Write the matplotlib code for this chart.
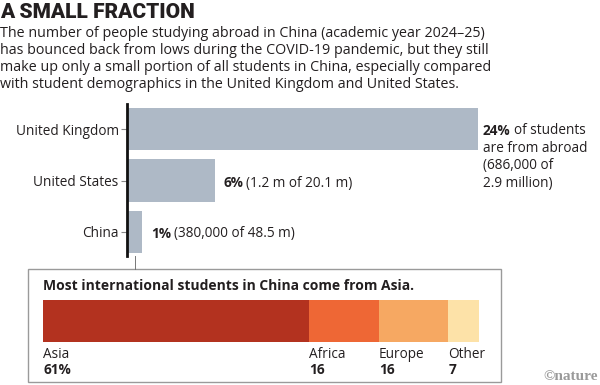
import matplotlib
matplotlib.use("Agg")
import matplotlib.pyplot as plt
from matplotlib.patches import Rectangle
from matplotlib.lines import Line2D

# data
countries = ["United Kingdom", "United States", "China"]
shares = [24, 6, 1]
notes = [
    ["of students", "are from abroad", "(686,000 of", "2.9 million)"],
    ["(1.2 m of 20.1 m)"],
    ["(380,000 of 48.5 m)"],
]
regions = ["Asia", "Africa", "Europe", "Other"]
region_shares = [61, 16, 16, 7]
region_labels = ["61%", "16", "16", "7"]
region_colors = ["#b3321f", "#ee6735", "#f6a862", "#fde2a8"]

W, H = 600, 385
BODY = ["Open Sans", "DejaVu Sans"]
TXT = "#231f20"
FS = 9.8

fig = plt.figure(figsize=(W / 100, H / 100), dpi=100)


def fx(px):
    return px / W


def fy(py):
    return 1 - py / H


def mixed(x, y, bold, rest, size, **kw):
    # bold piece followed by normal piece on one line (figure pixels)
    t = fig.text(fx(x), fy(y), bold, fontsize=size, weight="bold",
                 family=BODY, color=TXT, va="center", ha="left", **kw)
    r = fig.canvas.get_renderer()
    bb = t.get_window_extent(renderer=r)
    fig.text(bb.x1 / W + fx(3), fy(y), rest, fontsize=size, family=BODY,
             color=TXT, va="center", ha="left", **kw)


# headline and intro
fig.text(fx(0), fy(17.5), "A SMALL FRACTION", fontsize=15, weight="heavy",
         family=["Roboto", "DejaVu Sans"], color=TXT,
         va="baseline", ha="left")
intro = [
    "The number of people studying abroad in China (academic year 2024\u201325)",
    "has bounced back from lows during the COVID-19 pandemic, but they still",
    "make up only a small portion of all students in China, especially compared",
    "with student demographics in the United Kingdom and United States.",
]
for i, line in enumerate(intro):
    fig.text(fx(0), fy(37 + i * 17), line, fontsize=10.3, family=BODY,
             color=TXT, va="baseline", ha="left")

# country bars
ax = fig.add_axes([fx(127), fy(256), (478 - 127) / W, (256 - 104) / H])
ypos = list(range(len(countries)))
ax.barh(ypos, shares, height=0.83, color="#aeb9c6")
ax.set_xlim(0, 24)
ax.set_ylim(2.47, -0.49)
ax.set_yticks(ypos)
ax.set_yticklabels(countries, family=BODY, fontsize=FS, color=TXT)
ax.set_xticks([])
for s in ["top", "right", "bottom"]:
    ax.spines[s].set_visible(False)
ax.spines["left"].set_linewidth(2)
ax.spines["left"].set_color("#111111")
ax.tick_params(axis="y", length=4, width=0.8, color="#888888", pad=2)
ax.patch.set_alpha(0)

# annotations next to bars
mixed(483, 131, "24%", notes[0][0], FS)
for i, line in enumerate(notes[0][1:]):
    fig.text(fx(483), fy(131 + (i + 1) * 17.5), line, fontsize=FS,
             family=BODY, color=TXT, va="center", ha="left")
mixed(223, 183, "6%", notes[1][0], FS)
mixed(151, 234, "1%", notes[2][0], FS)

# connector and inset box
fig.add_artist(Line2D([fx(135), fx(135)], [fy(256), fy(269)],
                      color="#777777", lw=0.7))
fig.add_artist(Rectangle((fx(28), fy(382)), (501 - 28) / W, (382 - 269) / H,
                         transform=fig.transFigure, fill=False,
                         edgecolor="#9a9a9a", lw=1))
fig.text(fx(43), fy(286), "Most international students in China come from Asia.",
         fontsize=10, weight="bold", family=BODY, color=TXT,
         va="center", ha="left")

ax2 = fig.add_axes([fx(43), fy(342), (479 - 43) / W, (342 - 300) / H])
ax2.set_xlim(0, 100)
ax2.set_ylim(-0.5, 0.5)
ax2.axis("off")
left = 0
for name, val, lab, col in zip(regions, region_shares, region_labels, region_colors):
    ax2.barh(0, val, left=left, height=1, color=col)
    pos = ax2.transData.transform((left, 0))
    fig.text(pos[0] / W, fy(354), name, fontsize=FS, family=BODY,
             color=TXT, va="center", ha="left")
    fig.text(pos[0] / W, fy(370), lab, fontsize=FS, weight="bold",
             family=BODY, color=TXT, va="center", ha="left")
    left += val

fig.text(fx(598), fy(377), "\u00a9nature", fontsize=11, weight="bold",
         family=["Liberation Serif", "DejaVu Serif"], color="#9a9a9a",
         va="center", ha="right")

fig.savefig("out.png", dpi=100)
